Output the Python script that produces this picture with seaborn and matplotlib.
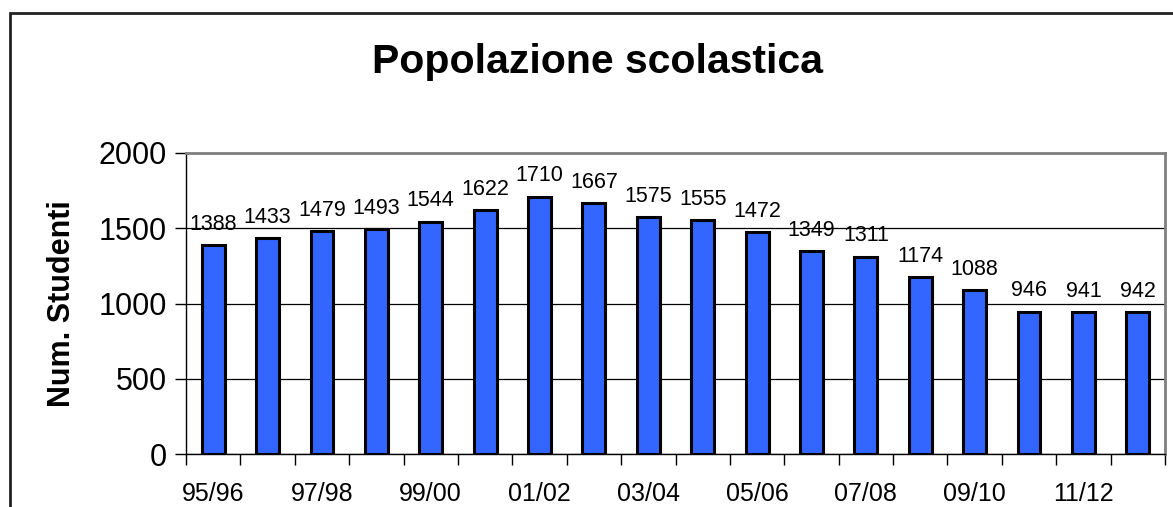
import numpy as np
import matplotlib
matplotlib.use("Agg")
import matplotlib.pyplot as plt
import seaborn as sns
import pandas as pd
from matplotlib.patches import Rectangle

anni = ["95/96", "96/97", "97/98", "98/99", "99/00", "00/01", "01/02", "02/03", "03/04",
        "04/05", "05/06", "06/07", "07/08", "08/09", "09/10", "10/11", "11/12", "12/13"]
studenti = [1388, 1433, 1479, 1493, 1544, 1622, 1710, 1667, 1575,
            1555, 1472, 1349, 1311, 1174, 1088, 946, 941, 942]
yticks = [0, 500, 1000, 1500, 2000]

df = pd.DataFrame({"anno": anni, "studenti": studenti})

sns.set_style("white")
plt.rcParams['font.family'] = ['Liberation Sans', 'DejaVu Sans']
plt.rcParams['text.color'] = 'black'
plt.rcParams['xtick.color'] = 'black'
plt.rcParams['ytick.color'] = 'black'
plt.rcParams['axes.labelcolor'] = 'black'

fig = plt.figure(figsize=(11.73, 5.07), dpi=100)
ax = fig.add_axes([186/1173, 1-454/507, (1165-186)/1173, (454-153)/507])

sns.barplot(data=df, x="anno", y="studenti", color="#3366FF", width=0.42,
            edgecolor="black", linewidth=2.2, saturation=1, ax=ax, zorder=3)

# etichette sopra le barre
for i, v in enumerate(studenti):
    ax.annotate(str(v), (i, v), xytext=(0, 11), textcoords="offset points",
                ha="center", va="baseline", fontsize=15.5, zorder=4)

ax.set_xlim(-0.5, len(anni) - 0.5)
ax.set_ylim(0, 2000)
ax.set_yticks(yticks)
ax.set_yticklabels([str(t) for t in yticks], fontsize=22)
ax.yaxis.grid(True, color="black", linewidth=0.9, zorder=0)
ax.set_axisbelow(True)

# tick principali ai bordi delle categorie, etichette sotto una barra su due
ax.set_xticks(np.arange(-0.5, len(anni), 1.0))
ax.set_xticklabels([])
ax.set_xticks(np.arange(0, len(anni), 2), minor=True)
ax.set_xticklabels(anni[::2], minor=True, fontsize=18)
ax.tick_params(axis="x", which="major", direction="out", length=8, width=1, color="black", bottom=True)
ax.tick_params(axis="x", which="minor", length=0, pad=20)
ax.tick_params(axis="y", direction="out", length=8, width=1, color="black", left=True, pad=6)

ax.set_xlabel("")
ax.set_ylabel("Num. Studenti", fontsize=22, fontweight="bold", labelpad=15)

for s in ["left", "bottom"]:
    ax.spines[s].set_color("black")
    ax.spines[s].set_linewidth(1)
for s in ["top", "right"]:
    ax.spines[s].set_color("#808080")
    ax.spines[s].set_linewidth(2)

fig.text(598/1173, 1-62/507, "Popolazione scolastica", ha="center", va="center",
         fontsize=29.5, fontweight="bold")

# bordo esterno del grafico
fig.patches.append(Rectangle((10/1173, -0.1), 1.1, 1 - 12.5/507 + 0.1,
                             transform=fig.transFigure, fill=False,
                             edgecolor="#222222", linewidth=2))

fig.savefig("out.png", dpi=100)
